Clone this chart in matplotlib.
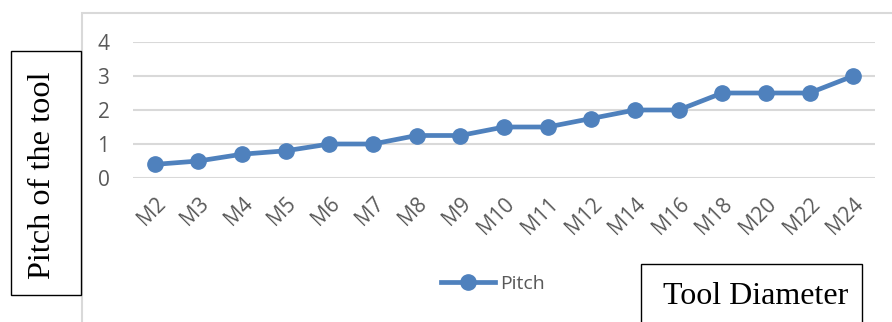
import matplotlib
matplotlib.use('Agg')
import matplotlib.pyplot as plt
from matplotlib.patches import Rectangle

# data
sizes = ['M2', 'M3', 'M4', 'M5', 'M6', 'M7', 'M8', 'M9', 'M10', 'M11',
         'M12', 'M14', 'M16', 'M18', 'M20', 'M22', 'M24']
pitch = [0.4, 0.5, 0.7, 0.8, 1.0, 1.0, 1.25, 1.25, 1.5, 1.5,
         1.75, 2.0, 2.0, 2.5, 2.5, 2.5, 3.0]
yticks = [0, 1, 2, 3, 4]

W, H = 892, 322
blue = '#4f81bd'
grey_txt = '#595959'
grid_col = '#d9d9d9'
fs = 15

fig = plt.figure(figsize=(W / 100, H / 100), dpi=100)


def fx(px):
    return px / W


def fy(py):
    return 1 - py / H


# chart area border (light grey), runs off the right and bottom edges
fig.patches.append(Rectangle((fx(82), fy(330)), fx(830), fy(13) - fy(330),
                             transform=fig.transFigure, fill=False,
                             edgecolor=grid_col, lw=1.5))

ax = fig.add_axes([fx(133), fy(178), fx(875) - fx(133), fy(42) - fy(178)])
x = list(range(len(sizes)))
ax.plot(x, pitch, color=blue, lw=3.4, marker='o', markersize=11,
        label='Pitch', clip_on=False, zorder=3)
ax.set_xlim(-0.5, len(sizes) - 0.5)
ax.set_ylim(0, 4)
ax.set_yticks(yticks)
ax.set_yticklabels([str(v) for v in yticks])
ax.set_xticks(x)
ax.set_xticklabels(sizes, rotation=45, ha='right', rotation_mode='anchor')
for s in ax.spines.values():
    s.set_visible(False)
ax.grid(axis='y', color=grid_col, lw=1.5)
ax.set_axisbelow(True)
ax.tick_params(length=0, colors=grey_txt, labelsize=fs)
ax.tick_params(axis='y', pad=17)
ax.tick_params(axis='x', pad=11)
for t in ax.get_xticklabels() + ax.get_yticklabels():
    t.set_fontfamily('Open Sans')
    t.set_color(grey_txt)

leg = fig.legend(loc='center', bbox_to_anchor=(fx(493), fy(284)),
                 frameon=False, prop={'family': 'Open Sans', 'size': 14},
                 handlelength=2.8, handletextpad=0.25)
for t in leg.get_texts():
    t.set_color(grey_txt)

# text boxes
fig.patches.append(Rectangle((fx(11), fy(295)), fx(70), fy(51) - fy(295),
                             transform=fig.transFigure, fill=True,
                             facecolor='white', edgecolor='black', lw=1))
fig.text(fx(43), fy(175), 'Pitch of the tool', rotation=90, ha='center',
         va='center', family='Liberation Serif', size=23.2)

fig.patches.append(Rectangle((fx(641), fy(340)), fx(221), fy(264) - fy(340),
                             transform=fig.transFigure, fill=True,
                             facecolor='white', edgecolor='black', lw=1))
fig.text(fx(756), fy(297), 'Tool Diameter', ha='center', va='center',
         family='Liberation Serif', size=23)

fig.savefig('out.png', dpi=100)
